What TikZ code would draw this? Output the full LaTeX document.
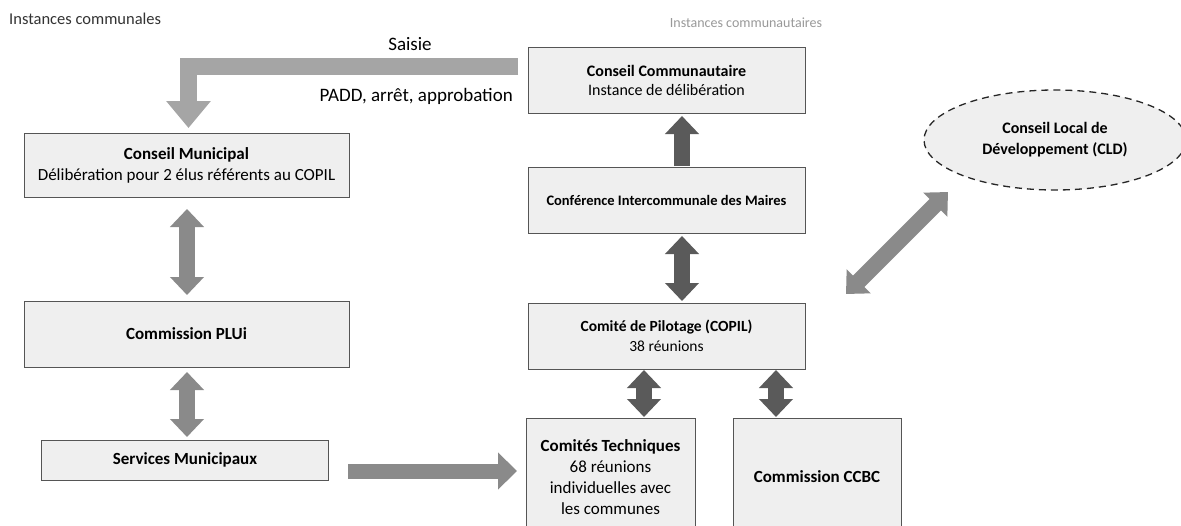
\documentclass[tikz,border=0pt]{standalone}
\usepackage{fontspec}
\setmainfont{Carlito}
\usetikzlibrary{arrows.meta,shapes.geometric}
\definecolor{boxfill}{HTML}{EFEFEF}
\definecolor{boxline}{HTML}{555555}
\definecolor{arrmid}{HTML}{8A8A8A}
\definecolor{arrdark}{HTML}{5A5A5A}
\definecolor{arrlight}{HTML}{A5A5A5}
\tikzset{
  box/.style={draw=boxline, fill=boxfill, line width=0.9pt, align=center, inner sep=0pt},
  bigtxt/.style={font=\fontsize{17}{22}\selectfont},
  dbl/.style={line width=16pt, {Triangle[width=33pt,length=18pt]}-{Triangle[width=33pt,length=18pt]}},
  one/.style={line width=16pt, -{Triangle[width=33pt,length=18pt]}},
  lbl/.style={font=\fontsize{19}{22}\selectfont, inner sep=0pt}
}
\begin{document}
\begin{tikzpicture}[x=1pt,y=-1pt]
\useasboundingbox (0,0) rectangle (1181,525);
\fill[white] (0,0) rectangle (1181,525);
% titles
\node[anchor=west, inner sep=0pt, text=black!80, font=\fontsize{16.5}{19}\selectfont] (t1) at (9,19) {Instances communales};
\node[inner sep=0pt, text=black!40, font=\fontsize{14}{17}\selectfont] (t2) at (746,23) {Instances communautaires};
% boxes left
\node[box, font=\fontsize{17}{21}\selectfont, minimum width=325pt, minimum height=64pt] (cm) at (186.5,165) {\textbf{Conseil Municipal}\\Délibération pour 2 élus référents au COPIL};
\node[box, bigtxt, minimum width=325pt, minimum height=66pt] (plui) at (186.5,334) {\textbf{Commission PLUi}};
\node[box, bigtxt, minimum width=287pt, minimum height=40pt] (sm) at (185,460) {\textbf{Services Municipaux}};
% boxes right
\node[box, font=\fontsize{16}{19}\selectfont, minimum width=277pt, minimum height=66pt] (cc) at (666.5,80) {\textbf{Conseil Communautaire}\\Instance de délibération};
\node[box, font=\fontsize{14.5}{18}\selectfont, minimum width=277pt, minimum height=66pt] (cim) at (666.5,200) {\textbf{Conférence Intercommunale des Maires}};
\node[box, font=\fontsize{15.5}{20}\selectfont, minimum width=277pt, minimum height=66pt] (copil) at (666.5,336) {\textbf{Comité de Pilotage (COPIL)}\\38 réunions};
\node[box, font=\fontsize{17}{21}\selectfont, minimum width=169pt, minimum height=118pt] (ct) at (610.5,477) {\textbf{Comités Techniques}\\68 réunions\\individuelles avec\\les communes};
\node[box, bigtxt, minimum width=168pt, minimum height=118pt] (ccbc) at (817,477) {\textbf{Commission CCBC}};
\node[draw=black!85, dashed, line width=1.3pt, dash pattern=on 7pt off 5pt, fill=boxfill, ellipse, minimum width=262pt, minimum height=100pt, align=center, inner sep=0pt, font=\fontsize{16}{21}\selectfont] (cld) at (1055,140) {\textbf{Conseil Local de}\\\textbf{Développement (CLD)}};
% bent arrow
\coordinate (bs) at (518,66);
\coordinate (bc) at (188.5,66);
\coordinate (be) at (188.5,128);
\draw[arrlight, line width=17pt, line join=miter, -{Triangle[width=43pt,length=27pt]}] (bs) -- (bc) -- (be);
\node[lbl] (saisie) at (410,44) {Saisie};
\node[lbl, anchor=east] (padd) at (513,96) {PADD, arrêt, approbation};
% left double arrows
\coordinate (a1s) at (187,209); \coordinate (a1e) at (187,295);
\draw[arrmid, dbl] (a1s) -- (a1e);
\coordinate (a2s) at (187,372); \coordinate (a2e) at (187,437);
\draw[arrmid, dbl] (a2s) -- (a2e);
% horizontal arrow
\coordinate (hs) at (348,471); \coordinate (he) at (517,471);
\draw[arrmid, line width=15pt, -{Triangle[width=36pt,length=19pt]}] (hs) -- (he);
% right arrows
\coordinate (r1s) at (682,166); \coordinate (r1e) at (682,116);
\draw[arrdark, one] (r1s) -- (r1e);
\coordinate (r2s) at (682,236); \coordinate (r2e) at (682,301);
\draw[arrdark, dbl] (r2s) -- (r2e);
\coordinate (r3s) at (644,370); \coordinate (r3e) at (644,417);
\draw[arrdark, dbl] (r3s) -- (r3e);
\coordinate (r4s) at (776,370); \coordinate (r4e) at (776,417);
\draw[arrdark, dbl] (r4s) -- (r4e);
% diagonal
\coordinate (ds) at (846,294); \coordinate (de) at (948,192);
\draw[arrmid, dbl] (ds) -- (de);
\end{tikzpicture}
\end{document}
